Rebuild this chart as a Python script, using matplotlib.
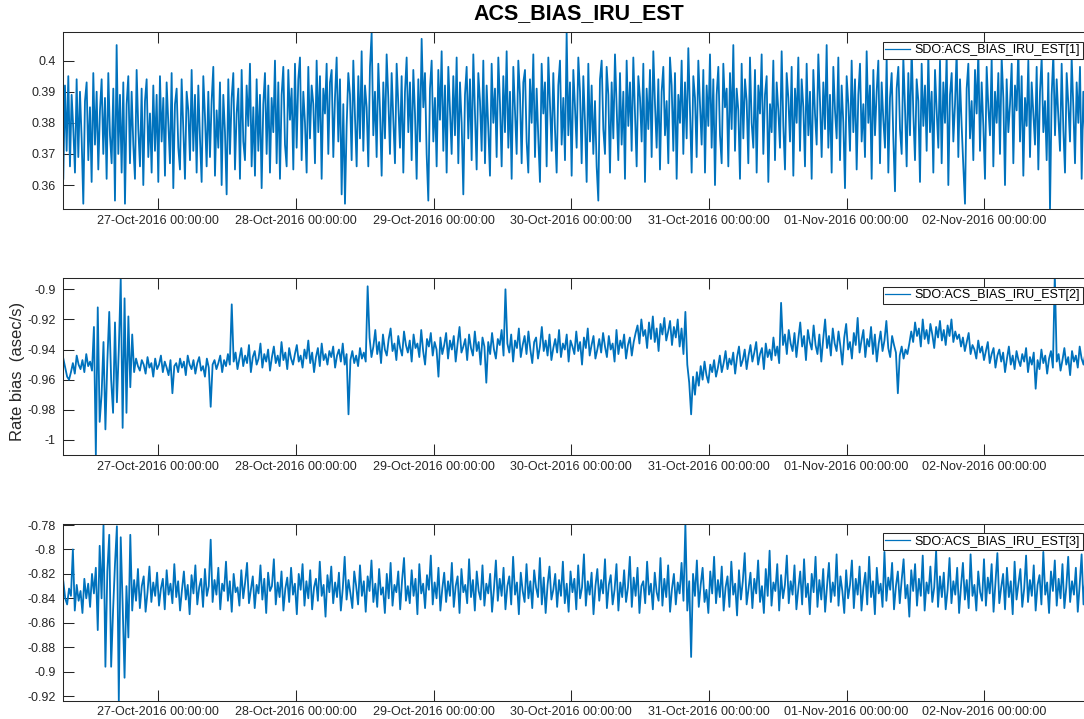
import matplotlib
matplotlib.use("Agg")
import matplotlib.pyplot as plt
import matplotlib.dates as mdates
from matplotlib.ticker import FuncFormatter
import pandas as pd

plt.rcParams['font.family'] = ['Liberation Sans', 'DejaVu Sans']
# keep every sample of the noisy traces
plt.rcParams['path.simplify'] = False

# telemetry window (uniform sampling between these stamps)
start = "2016-10-26 07:26"
stop = "2016-11-02 19:18"

# IRU rate bias estimates, in milli-asec/s
est1_milli = [
    362, 392, 371, 395, 366, 389, 378, 364, 394, 369, 390, 375, 354, 387, 393, 368, 385, 361, 396, 373,
    390, 365, 384, 394, 370, 388, 362, 396, 376, 367, 391, 355, 405, 370, 389, 364, 393, 354, 386, 395,
    367, 390, 373, 362, 397, 378, 366, 391, 360, 387, 394, 369, 383, 364, 392, 371, 389, 361, 395, 374,
    388, 363, 393, 380, 367, 396, 359, 386, 391, 372, 365, 394, 378, 362, 390, 384, 368, 397, 371, 389,
    364, 392, 375, 361, 395, 382, 366, 390, 369, 387, 398, 363, 384, 372, 393, 360, 389, 377, 357, 394,
    370, 388, 396, 365, 383, 391, 362, 397, 374, 368, 392, 379, 399, 366, 385, 363, 394, 371, 389, 359,
    386, 396, 370, 392, 364, 388, 377, 400, 367, 393, 362, 389, 398, 373, 366, 397, 381, 391, 365, 399,
    372, 394, 401, 368, 390, 380, 364, 398, 375, 392, 386, 367, 400, 377, 395, 362, 391, 383, 399, 370,
    393, 397, 369, 388, 401, 374, 394, 357, 386, 354, 379, 396, 389, 368, 400, 382, 366, 395, 375, 403,
    371, 392, 385, 366, 398, 409, 376, 390, 369, 399, 384, 363, 393, 375, 402, 388, 370, 396, 381, 367,
    399, 386, 372, 395, 364, 390, 401, 377, 393, 368, 397, 383, 362, 394, 374, 407, 385, 396, 370, 355,
    391, 400, 374, 388, 366, 397, 381, 403, 371, 392, 364, 398, 384, 370, 395, 376, 401, 367, 393, 380,
    357, 389, 398, 375, 394, 368, 402, 383, 365, 396, 387, 371, 400, 367, 392, 378, 363, 399, 380, 391,
    369, 401, 386, 366, 395, 377, 403, 372, 390, 362, 398, 384, 370, 400, 389, 367, 393, 397, 374, 364,
    394, 380, 402, 369, 391, 375, 361, 399, 383, 393, 366, 401, 386, 371, 396, 378, 364, 392, 400, 373,
    388, 368, 409, 376, 393, 363, 397, 385, 372, 401, 390, 367, 395, 380, 361, 399, 374, 392, 370, 387,
    366, 355, 394, 400, 378, 370, 398, 389, 364, 393, 375, 402, 385, 368, 396, 373, 390, 362, 400, 379,
    393, 371, 401, 383, 366, 395, 388, 374, 399, 361, 391, 378, 397, 369, 403, 386, 372, 394, 365, 390,
    398, 376, 387, 367, 401, 392, 371, 396, 362, 389, 380, 400, 370, 393, 375, 404, 384, 364, 395, 388,
    369, 400, 386, 373, 397, 364, 392, 379, 402, 372, 394, 360, 389, 398, 376, 367, 399, 385, 391, 366,
    396, 378, 405, 371, 391, 384, 362, 399, 375, 394, 387, 367, 401, 380, 372, 397, 364, 392, 383, 402,
    370, 389, 395, 361, 386, 377, 400, 368, 393, 384, 372, 403, 379, 365, 396, 388, 374, 398, 363, 391,
    380, 401, 371, 394, 385, 366, 399, 376, 390, 362, 397, 383, 373, 402, 387, 369, 393, 378, 405, 372,
    389, 364, 398, 384, 375, 401, 368, 392, 380, 359, 395, 386, 371, 400, 377, 394, 365, 389, 399, 374,
    386, 369, 403, 380, 392, 362, 397, 376, 390, 400, 367, 393, 381, 372, 401, 364, 388, 396, 375, 358,
    391, 398, 378, 370, 401, 385, 366, 396, 376, 404, 383, 368, 394, 387, 361, 399, 379, 392, 371, 402,
    377, 390, 364, 397, 384, 372, 400, 367, 393, 380, 402, 360, 389, 396, 374, 386, 403, 369, 394, 379,
    366, 354, 391, 399, 375, 387, 368, 397, 383, 403, 371, 393, 379, 362, 398, 385, 376, 401, 366, 390,
    380, 396, 370, 401, 388, 360, 394, 377, 386, 399, 367, 392, 384, 404, 374, 395, 363, 388, 379, 400,
    369, 393, 383, 373, 398, 365, 390, 401, 377, 387, 368, 396, 352, 389, 402, 376, 394, 382, 371, 399,
    378, 364, 396, 386, 374, 401, 385, 367, 393, 380, 398, 362, 390, 377, 400, 370, 395, 384, 373, 391,
]

est2_milli = [
    -946, -952, -958, -960, -955, -949, -956, -944, -950, -953, -947, -955, -943, -951, -948, -954, -925, -1010, -912, -988,
    -970, -935, -993, -948, -915, -960, -982, -922, -975, -940, -893, -992, -906, -982, -918, -965, -930, -955, -946, -951,
    -954, -947, -950, -956, -945, -952, -949, -958, -946, -953, -950, -944, -955, -948, -952, -957, -947, -969, -951, -949,
    -955, -946, -952, -948, -957, -944, -950, -953, -947, -956, -949, -945, -954, -951, -958, -946, -952, -978, -950, -947,
    -953, -949, -944, -955, -947, -951, -943, -950, -910, -948, -942, -953, -946, -939, -951, -944, -949, -937, -955, -945,
    -941, -950, -946, -936, -952, -943, -948, -940, -954, -945, -938, -949, -944, -951, -935, -947, -942, -953, -939, -946,
    -950, -943, -937, -948, -944, -952, -940, -946, -934, -949, -942, -955, -945, -939, -951, -936, -947, -943, -950, -941,
    -945, -938, -952, -944, -940, -948, -936, -950, -943, -983, -947, -941, -949, -944, -951, -939, -946, -942, -948, -898,
    -932, -945, -938, -927, -943, -935, -949, -930, -940, -944, -933, -926, -941, -936, -947, -931, -939, -944, -928, -937,
    -942, -934, -948, -930, -939, -936, -945, -927, -941, -950, -933, -938, -929, -944, -935, -940, -958, -932, -943, -937,
    -929, -946, -934, -940, -931, -948, -936, -925, -942, -938, -933, -947, -930, -939, -944, -928, -941, -935, -950, -932,
    -938, -962, -935, -943, -929, -940, -946, -933, -937, -927, -944, -900, -936, -942, -930, -948, -934, -939, -926, -945,
    -937, -931, -943, -928, -940, -949, -935, -932, -946, -938, -925, -941, -934, -944, -930, -947, -939, -933, -942, -927,
    -945, -936, -940, -930, -948, -934, -938, -943, -928, -941, -935, -950, -932, -939, -926, -944, -937, -931, -946, -940,
    -933, -942, -929, -938, -945, -931, -940, -936, -948, -927, -943, -934, -939, -930, -946, -937, -932, -944, -935, -929,
    -924, -936, -920, -931, -927, -939, -922, -933, -918, -935, -926, -941, -923, -930, -919, -934, -928, -921, -937, -925,
    -932, -920, -938, -926, -943, -915, -950, -962, -983, -958, -970, -955, -964, -951, -960, -948, -957, -962, -950, -955,
    -947, -958, -952, -944, -955, -949, -941, -953, -946, -950, -942, -956, -945, -938, -951, -947, -940, -953, -944, -937,
    -948, -942, -935, -950, -943, -939, -953, -936, -945, -940, -947, -932, -944, -938, -949, -909, -937, -930, -943, -927,
    -936, -941, -929, -945, -933, -922, -938, -931, -947, -927, -935, -940, -924, -937, -943, -930, -948, -933, -920, -939,
    -931, -944, -926, -936, -941, -928, -938, -950, -932, -923, -940, -935, -946, -929, -937, -919, -942, -934, -927, -945,
    -933, -938, -925, -943, -930, -948, -936, -928, -941, -934, -921, -939, -945, -931, -937, -942, -969, -944, -938, -946,
    -940, -943, -936, -928, -935, -922, -931, -926, -938, -920, -933, -927, -936, -923, -930, -939, -925, -932, -921, -934,
    -927, -937, -924, -931, -920, -935, -928, -933, -930, -938, -932, -941, -935, -929, -943, -937, -940, -946, -934, -942,
    -938, -947, -941, -935, -949, -943, -939, -952, -944, -940, -948, -942, -955, -946, -938, -950, -944, -953, -941, -947,
    -951, -943, -948, -939, -955, -945, -950, -942, -966, -947, -953, -940, -949, -944, -956, -946, -941, -952, -890, -948,
    -943, -954, -947, -939, -950, -945, -957, -941, -948, -944, -952, -938, -946, -950, -942, -955, -944, -940, -949, -943,
]

est3_milli = [
    -826, -840, -845, -832, -838, -800, -850, -829, -842, -834, -852, -824, -840, -828, -847, -820, -836, -815, -866, -797,
    -840, -780, -896, -818, -788, -896, -850, -812, -781, -924, -790, -845, -905, -830, -872, -788, -850, -825, -842, -816,
    -848, -830, -822, -851, -835, -814, -843, -827, -838, -819, -846, -832, -824, -849, -817, -837, -828, -844, -812, -839,
    -826, -850, -833, -818, -841, -829, -853, -821, -836, -813, -845, -831, -824, -847, -816, -838, -830, -792, -843, -825,
    -837, -815, -849, -828, -834, -810, -842, -826, -851, -820, -835, -831, -846, -817, -840, -827, -811, -844, -833, -822,
    -848, -829, -836, -813, -841, -824, -852, -819, -834, -830, -808, -845, -827, -839, -818, -850, -832, -823, -843, -815,
    -837, -828, -853, -820, -833, -812, -846, -826, -840, -817, -849, -831, -824, -842, -810, -838, -829, -855, -821, -835,
    -814, -844, -827, -839, -819, -850, -832, -806, -841, -825, -836, -848, -818, -830, -845, -813, -838, -826, -851, -822,
    -834, -809, -843, -828, -847, -816, -837, -831, -852, -820, -840, -811, -846, -829, -835, -818, -849, -825, -807, -842,
    -830, -844, -817, -838, -824, -853, -812, -836, -828, -848, -821, -833, -805, -845, -827, -840, -815, -850, -832, -819,
    -843, -826, -838, -811, -847, -830, -822, -852, -816, -835, -829, -844, -808, -839, -825, -850, -818, -834, -841, -813,
    -846, -828, -836, -820, -851, -832, -809, -842, -824, -838, -815, -849, -830, -822, -845, -806, -837, -827, -853, -819,
    -834, -843, -812, -840, -826, -848, -817, -831, -839, -807, -845, -823, -852, -829, -814, -841, -833, -820, -847, -825,
    -838, -810, -844, -828, -851, -818, -835, -824, -849, -813, -840, -831, -804, -846, -826, -837, -819, -853, -830, -816,
    -842, -825, -836, -808, -848, -829, -821, -845, -833, -812, -850, -827, -839, -817, -843, -831, -806, -847, -823, -838,
    -815, -852, -830, -826, -844, -810, -837, -828, -849, -819, -835, -842, -807, -846, -824, -839, -813, -851, -832, -820,
    -845, -827, -836, -811, -842, -779, -850, -826, -888, -820, -838, -809, -847, -829, -815, -843, -833, -852, -818, -836,
    -806, -844, -825, -839, -814, -850, -831, -822, -847, -810, -837, -828, -854, -817, -841, -826, -803, -845, -832, -819,
    -848, -824, -836, -809, -843, -830, -852, -816, -838, -801, -846, -827, -834, -812, -850, -821, -840, -829, -805, -844,
    -826, -837, -813, -849, -832, -818, -845, -808, -839, -828, -853, -820, -835, -806, -847, -825, -841, -816, -851, -830,
    -811, -843, -827, -838, -804, -846, -822, -834, -852, -817, -840, -829, -809, -848, -824, -837, -814, -850, -831, -819,
    -845, -806, -839, -826, -853, -815, -836, -828, -847, -802, -842, -823, -833, -811, -849, -830, -818, -844, -825, -808,
    -840, -829, -855, -817, -834, -812, -846, -824, -838, -805, -850, -827, -836, -814, -843, -831, -801, -847, -822, -839,
    -819, -849, -833, -807, -844, -826, -837, -815, -852, -830, -811, -841, -825, -848, -804, -838, -829, -850, -818, -835,
    -842, -808, -846, -823, -836, -812, -851, -827, -803, -844, -831, -820, -849, -815, -839, -826, -853, -810, -841, -828,
    -816, -847, -832, -805, -843, -825, -838, -813, -850, -829, -821, -845, -802, -837, -827, -852, -818, -834, -809, -846,
    -824, -840, -812, -848, -831, -806, -843, -826, -837, -815, -851, -829, -804, -845, -822, -838, -813, -849, -830, -836,
]

labels = ["SDO:ACS_BIAS_IRU_EST[1]", "SDO:ACS_BIAS_IRU_EST[2]", "SDO:ACS_BIAS_IRU_EST[3]"]
y_limits = [(0.3523, 0.4091), (-1.0100, -0.8927), (-0.9238, -0.7794)]
y_ticks = [
    [0.36, 0.37, 0.38, 0.39, 0.40],
    [-1.0, -0.98, -0.96, -0.94, -0.92, -0.90],
    [-0.92, -0.90, -0.88, -0.86, -0.84, -0.82, -0.80, -0.78],
]

W, H = 1084, 719
# axes boxes in pixels: left, top, right, bottom
boxes = [(63.3, 32.3, 1095, 209), (63.3, 278.3, 1095, 455), (63.3, 524.3, 1095, 700.7)]
legend_corner = [(1082.5, 41.7), (1082.5, 286.7), (1082.5, 533.0)]

matlab_blue = '#0072BD'
ink = '#262626'

fig = plt.figure(figsize=(W / 100, H / 100), dpi=100)

for k, values in enumerate([est1_milli, est2_milli, est3_milli]):
    l, t, r, b = boxes[k]
    ax = fig.add_axes([l / W, 1 - b / H, (r - l) / W, (b - t) / H])
    times = pd.date_range(start, stop, periods=len(values))
    y = [v / 1000 for v in values]
    ax.plot(times, y, color=matlab_blue, lw=1.3, label=labels[k])

    ax.set_xlim(times[0], times[-1])
    ax.set_ylim(*y_limits[k])
    ax.set_yticks(y_ticks[k])
    ax.yaxis.set_major_formatter(FuncFormatter(lambda v, p: f"{round(v, 4):g}"))
    ax.xaxis.set_major_locator(mdates.DayLocator())
    ax.xaxis.set_major_formatter(mdates.DateFormatter('%d-%b-%Y %H:%M:%S'))

    ax.tick_params(axis='both', direction='in', length=7.7, width=0.75,
                   color=ink, labelcolor=ink, labelsize=9, top=True, right=True)
    ax.tick_params(axis='x', pad=4)
    ax.tick_params(axis='y', pad=5.5)
    for s in ax.spines.values():
        s.set_color(ink)
        s.set_linewidth(0.75)

    lx, ly = legend_corner[k]
    leg = ax.legend(loc='upper right', bbox_to_anchor=(lx / W, 1 - ly / H),
                    bbox_transform=fig.transFigure, borderaxespad=0,
                    fontsize=9, frameon=True, fancybox=False, framealpha=1,
                    borderpad=0.2, handlelength=2.0, handletextpad=0.35)
    leg.get_frame().set_edgecolor(ink)
    leg.get_frame().set_linewidth(0.75)
    for h in leg.get_lines():
        h.set_linewidth(0.9)

fig.text(579 / W, 1 - 14 / H, "ACS_BIAS_IRU_EST", fontsize=15.5, fontweight='bold',
         ha='center', va='center', color='black')
fig.text(17.5 / W, 1 - 371.5 / H, "Rate bias  (asec/s)", fontsize=12, rotation=90,
         ha='center', va='center', color=ink)

fig.savefig("out.png", dpi=100)
